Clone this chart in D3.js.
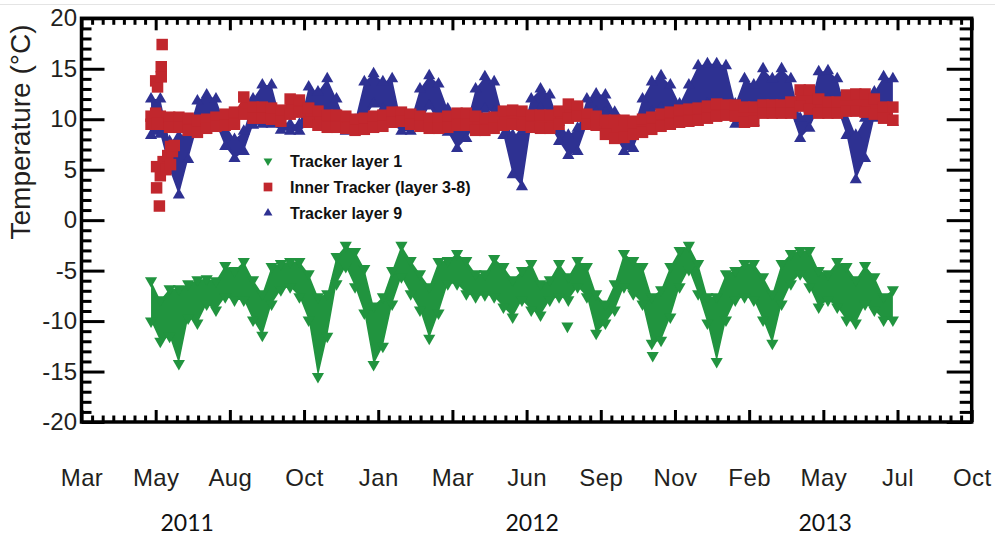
<!DOCTYPE html>
<html>
<head>
<meta charset="utf-8">
<script src="https://cdn.jsdelivr.net/npm/d3@7/dist/d3.min.js"></script>
<style>
	body { margin: 0; background: #fff; }
	svg { display: block; }
</style>
</head>
<body>
<div class="temp-chart"></div>
<script>
// Tick labels of the time axis (one major tick every 80 days) and of the years below it.
var monthLabels = ['Mar', 'May', 'Aug', 'Oct', 'Jan', 'Mar', 'Jun', 'Sep', 'Nov', 'Feb', 'May', 'Jul', 'Oct'];
var monthTicks = [0, 80, 160, 240, 320, 400, 480, 560, 640, 720, 800, 880, 960];
var yearLabels = ['2011', '2012', '2013'];
var yearDays = [114, 486, 802];
var tempMajor = [-20, -15, -10, -5, 0, 5, 10, 15, 20];

// Samples every 10 days; for each series the upper and lower edge of the band of readings.
var sampleDays = [75, 85, 95, 105, 115, 125, 135, 145, 155, 165, 175, 185, 195, 205, 215, 225, 235, 245, 255, 265,
	275, 285, 295, 305, 315, 325, 335, 345, 355, 365, 375, 385, 395, 405, 415, 425, 435, 445, 455, 465,
	475, 485, 495, 505, 515, 525, 535, 545, 555, 565, 575, 585, 595, 605, 615, 625, 635, 645, 655, 665,
	675, 685, 695, 705, 715, 725, 735, 745, 755, 765, 775, 785, 795, 805, 815, 825, 835, 845, 855, 865, 875];

var layer1High = [-6.0, -7.9, -6.8, -6.8, -6.3, -5.9, -5.8, -6.0, -4.5, -5.0,
	-4.1, -5.9, -7.3, -4.6, -4.3, -4.1, -4.1, -5.3, -7.6, -7.3,
	-3.6, -2.5, -3.1, -4.8, -8.5, -7.6, -5.0, -2.5, -4.0, -5.3,
	-6.6, -4.1, -4.0, -3.3, -4.0, -5.3, -5.3, -3.8, -4.6, -5.9,
	-5.0, -4.3, -6.3, -5.9, -4.3, -5.6, -4.0, -4.6, -7.3, -8.3,
	-6.3, -3.3, -4.0, -4.6, -7.6, -6.9, -4.6, -3.0, -2.5, -4.3,
	-7.6, -7.6, -5.3, -5.0, -4.3, -4.3, -5.6, -7.3, -4.3, -3.3,
	-3.0, -3.0, -5.0, -5.3, -4.1, -4.6, -5.9, -4.5, -5.6, -7.6, -6.9];
var layer1Low = [-10.0, -12.0, -11.5, -14.2, -9.7, -10.2, -8.3, -8.9, -7.6, -7.9,
	-7.9, -9.9, -11.4, -8.3, -6.9, -6.6, -7.6, -9.9, -15.5, -11.5,
	-6.3, -4.6, -6.6, -9.2, -14.3, -12.5, -8.3, -5.6, -7.3, -8.9,
	-11.7, -9.2, -6.3, -6.3, -7.3, -7.6, -7.4, -7.6, -8.6, -9.6,
	-7.9, -8.9, -9.4, -7.9, -7.6, -7.9, -6.6, -7.6, -11.2, -10.2,
	-8.9, -6.6, -7.3, -8.3, -12.2, -11.9, -9.6, -6.6, -4.9, -7.3,
	-10.2, -14.0, -9.9, -7.9, -7.6, -7.9, -9.9, -12.2, -8.3, -6.3,
	-5.3, -6.6, -8.6, -7.9, -8.6, -9.9, -10.2, -8.3, -8.9, -9.9, -9.9];
var layer1OutlierDays = [524, 616];
var layer1OutlierTemps = [-10.5, -13.4];

var innerHigh = [10.3, 10.3, 10.2, 10.2, 10.1, 9.9, 10.0, 10.2, 10.5, 10.7,
	12.2, 11.2, 11.2, 11.1, 10.9, 12.0, 11.9, 11.1, 10.8, 10.4,
	10.4, 10.3, 10.0, 10.1, 10.3, 10.4, 10.7, 10.7, 10.5, 10.3,
	10.1, 10.1, 10.3, 10.6, 10.6, 10.3, 10.1, 10.2, 10.8, 10.9,
	10.8, 10.4, 10.4, 10.4, 10.8, 11.5, 11.3, 10.5, 10.3, 9.9,
	9.9, 9.9, 9.8, 10.0, 10.2, 10.5, 10.7, 10.9, 11.0, 11.1,
	11.3, 11.5, 11.4, 11.4, 11.2, 11.2, 11.4, 11.4, 11.4, 11.7,
	12.9, 12.9, 12.0, 11.7, 11.7, 12.4, 12.5, 12.5, 12.0, 11.2, 11.2];
var innerLow = [9.5, 9.5, 9.2, 9.2, 8.9, 8.7, 9.1, 9.3, 9.4, 9.5,
	10.5, 10.1, 10.1, 10.0, 9.8, 10.5, 10.7, 9.7, 9.4, 9.2,
	9.2, 9.1, 8.9, 9.0, 9.2, 9.3, 9.7, 9.8, 9.5, 9.3,
	9.1, 9.1, 9.2, 9.4, 9.4, 8.9, 8.9, 9.1, 9.4, 9.5,
	9.4, 9.2, 9.1, 9.1, 9.5, 10.1, 10.3, 9.5, 9.4, 8.5,
	8.1, 8.2, 8.5, 8.7, 9.0, 9.3, 9.5, 9.7, 9.8, 9.9,
	10.1, 10.3, 10.4, 10.3, 9.7, 9.8, 10.6, 10.6, 10.6, 10.6,
	11.3, 11.0, 10.6, 10.6, 10.6, 10.8, 10.8, 10.7, 10.5, 10.1, 9.9];
// The scattered first weeks of the inner tracker readings.
var innerEarlyDays = [80, 82, 86, 86, 87, 80, 82, 81, 85, 81, 84, 88, 91, 93, 96, 98, 100, 96];
var innerEarlyTemps = [13.8, 13.2, 15.2, 14.2, 17.4, 10.6, 9.6, 5.3, 4.4, 3.2, 1.4, 5.8, 5.0, 6.4, 7.3, 6.8, 7.4, 5.5];

var layer9High = [12.0, 12.0, 7.8, 8.3, 8.7, 11.8, 12.4, 12.0, 9.5, 8.0,
	8.8, 12.0, 13.4, 13.4, 9.9, 9.5, 9.5, 13.2, 12.7, 14.0,
	12.0, 9.7, 9.9, 13.7, 14.5, 13.7, 14.0, 9.7, 9.9, 13.0,
	14.3, 13.5, 11.0, 9.0, 9.5, 13.0, 14.2, 13.7, 10.1, 8.4,
	8.8, 12.0, 13.0, 12.4, 9.7, 8.4, 9.1, 12.0, 12.5, 12.4,
	10.7, 8.7, 9.1, 12.0, 13.7, 14.3, 13.4, 11.5, 13.4, 15.3,
	15.5, 15.5, 15.3, 11.5, 14.0, 13.4, 15.0, 14.0, 15.0, 14.0,
	10.1, 11.0, 14.7, 14.8, 14.0, 10.7, 8.4, 10.1, 12.7, 14.2, 14.0];
var layer9Low = [8.4, 8.5, 5.0, 2.5, 6.0, 9.3, 9.5, 9.5, 7.3, 6.1,
	6.8, 9.4, 9.5, 9.5, 8.9, 8.8, 8.8, 9.5, 9.5, 9.5,
	9.0, 8.8, 8.9, 10.0, 11.5, 11.0, 9.5, 8.8, 8.8, 9.5,
	11.3, 9.5, 8.7, 7.1, 8.1, 9.5, 11.0, 10.7, 8.4, 4.5,
	3.3, 9.4, 11.1, 9.4, 7.8, 6.4, 6.8, 9.4, 10.7, 10.7,
	8.4, 6.8, 7.1, 9.4, 10.7, 11.1, 10.1, 10.0, 10.7, 11.1,
	11.5, 10.7, 10.5, 9.5, 9.7, 9.7, 11.1, 10.7, 11.4, 10.7,
	8.1, 9.1, 11.1, 12.0, 11.1, 8.4, 4.0, 6.1, 10.1, 10.7, 9.7];

(function() {
	var textColor = '#231f20',
		green = '#21943f',
		red = '#c1272d',
		blue = '#2e3192',
		tickFont = '"Liberation Sans", Arial, sans-serif',
		triSize = 64,
		squareSize = 132;

	var x = d3.scaleLinear().domain([0, 960]).range([81.5, 971.7]);
	var y = d3.scaleLinear().domain([-20, 20]).range([422, 18.3]);

	var svg = d3.select('.temp-chart').append('svg')
		.attr('width', 995)
		.attr('height', 536);

	// Thin grey line along the top of the screenshot.
	svg.append('line')
		.attr('x1', 0).attr('x2', 995)
		.attr('y1', 4.5).attr('y2', 4.5)
		.attr('stroke', '#e4e4e4')
		.attr('stroke-width', 1);

	// Draws one band: a filled area between the edges and the markers along both edges.
	function band(high, low, color, symbolType, size, rotate) {
		var rows = sampleDays.map(function(d, i) {
			return {day: d, hi: high[i], lo: low[i]};
		});
		var area = d3.area()
			.x(function(d) { return x(d.day); })
			.y0(function(d) { return y(d.lo); })
			.y1(function(d) { return y(d.hi); });
		var g = svg.append('g');
		g.append('path')
			.datum(rows)
			.attr('d', area)
			.attr('fill', color);
		var pts = [];
		rows.forEach(function(r) {
			pts.push({day: r.day, v: r.hi});
			pts.push({day: r.day, v: r.lo});
		});
		g.selectAll('path.mark')
			.data(pts)
			.enter().append('path')
			.attr('class', 'mark')
			.attr('d', d3.symbol().type(symbolType).size(size))
			.attr('transform', function(d) {
				return 'translate(' + x(d.day) + ',' + y(d.v) + ') rotate(' + rotate + ')';
			})
			.attr('fill', color);
		return g;
	}

	// Tracker layer 1, with a couple of stray readings.
	var g1 = band(layer1High, layer1Low, green, d3.symbolTriangle, triSize, 180);
	g1.selectAll('path.out')
		.data(layer1OutlierDays)
		.enter().append('path')
		.attr('d', d3.symbol().type(d3.symbolTriangle).size(triSize))
		.attr('transform', function(d, i) {
			return 'translate(' + x(d) + ',' + y(layer1OutlierTemps[i]) + ') rotate(180)';
		})
		.attr('fill', green);

	// Tracker layer 9 lies underneath the inner tracker.
	band(layer9High, layer9Low, blue, d3.symbolTriangle, triSize, 0);
	var g2 = band(innerHigh, innerLow, red, d3.symbolSquare, squareSize, 0);
	g2.selectAll('path.early')
		.data(innerEarlyDays)
		.enter().append('path')
		.attr('d', d3.symbol().type(d3.symbolSquare).size(squareSize))
		.attr('transform', function(d, i) {
			return 'translate(' + x(d) + ',' + y(innerEarlyTemps[i]) + ')';
		})
		.attr('fill', red);

	// Axes: major and minor ticks on all four sides, pointing into the plot.
	var timeMinor = d3.range(0, 960, 80 / 7).filter(function(d, i) { return i % 7 !== 0; });
	var tempMinor = d3.range(-20, 21).filter(function(d) { return d % 5 !== 0; });

	function styleAxis(g) {
		g.select('.domain').remove();
		g.selectAll('line')
			.attr('stroke', '#000')
			.attr('stroke-width', 3);
		g.attr('font-size', 24)
			.attr('font-family', tickFont);
		g.selectAll('text').attr('fill', textColor);
	}

	svg.append('g')
		.attr('transform', 'translate(' + x(0) + ',0)')
		.call(d3.axisLeft(y).tickValues(tempMajor).tickSize(-23).tickPadding(4.5)
			.tickFormat(function(d) { return String(d); }))
		.call(styleAxis);
	svg.append('g')
		.attr('transform', 'translate(' + x(0) + ',0)')
		.call(d3.axisLeft(y).tickValues(tempMinor).tickSize(-10).tickFormat(''))
		.call(styleAxis);
	svg.append('g')
		.attr('transform', 'translate(' + x(960) + ',0)')
		.call(d3.axisRight(y).tickValues(tempMajor).tickSize(-25).tickFormat(''))
		.call(styleAxis);
	svg.append('g')
		.attr('transform', 'translate(' + x(960) + ',0)')
		.call(d3.axisRight(y).tickValues(tempMinor).tickSize(-12).tickFormat(''))
		.call(styleAxis);
	svg.append('g')
		.attr('transform', 'translate(0,' + y(-20) + ')')
		.call(d3.axisBottom(x).tickValues(monthTicks).tickSize(-12).tickPadding(47)
			.tickFormat(function(d, i) { return monthLabels[i]; }))
		.call(styleAxis)
		.selectAll('text').attr('letter-spacing', 0.4);
	svg.append('g')
		.attr('transform', 'translate(0,' + y(-20) + ')')
		.call(d3.axisBottom(x).tickValues(timeMinor).tickSize(-6.5).tickFormat(''))
		.call(styleAxis);
	svg.append('g')
		.attr('transform', 'translate(0,' + y(20) + ')')
		.call(d3.axisTop(x).tickValues(monthTicks).tickSize(-12).tickFormat(''))
		.call(styleAxis);
	svg.append('g')
		.attr('transform', 'translate(0,' + y(20) + ')')
		.call(d3.axisTop(x).tickValues(timeMinor).tickSize(-6.5).tickFormat(''))
		.call(styleAxis);

	// Frame.
	svg.append('rect')
		.attr('x', x(0))
		.attr('y', y(20))
		.attr('width', x(960) - x(0))
		.attr('height', y(-20) - y(20))
		.attr('fill', 'none')
		.attr('stroke', '#000')
		.attr('stroke-width', 3.5);

	// Years under the month labels.
	svg.selectAll('text.year')
		.data(yearLabels)
		.enter().append('text')
		.attr('class', 'year')
		.attr('x', function(d, i) { return x(yearDays[i]); })
		.attr('y', 531)
		.attr('text-anchor', 'middle')
		.attr('font-family', 'Lato, "Open Sans", sans-serif')
		.attr('font-size', 23)
		.attr('fill', '#111')
		.text(function(d) { return d; });

	// Axis title.
	svg.append('text')
		.attr('transform', 'translate(30,132) rotate(-90)')
		.attr('text-anchor', 'middle')
		.attr('font-family', tickFont)
		.attr('font-size', 28)
		.attr('fill', textColor)
		.text('Temperature (°C)');

	// Legend.
	var legend = [
		{label: 'Tracker layer 1', color: green, type: d3.symbolTriangle, size: 34, rotate: 180, cy: 161},
		{label: 'Inner Tracker (layer 3-8)', color: red, type: d3.symbolSquare, size: 76, rotate: 0, cy: 187},
		{label: 'Tracker layer 9', color: blue, type: d3.symbolTriangle, size: 34, rotate: 0, cy: 213}
	];
	var lg = svg.append('g');
	lg.selectAll('path')
		.data(legend)
		.enter().append('path')
		.attr('d', function(d) { return d3.symbol().type(d.type).size(d.size)(); })
		.attr('transform', function(d) { return 'translate(268,' + d.cy + ') rotate(' + d.rotate + ')'; })
		.attr('fill', function(d) { return d.color; });
	lg.selectAll('text')
		.data(legend)
		.enter().append('text')
		.attr('x', 290)
		.attr('y', function(d) { return d.cy + 5.5; })
		.attr('font-family', tickFont)
		.attr('font-weight', 'bold')
		.attr('font-size', 16)
		.attr('fill', '#111')
		.text(function(d) { return d.label; });
})();
</script>
</body>
</html>
